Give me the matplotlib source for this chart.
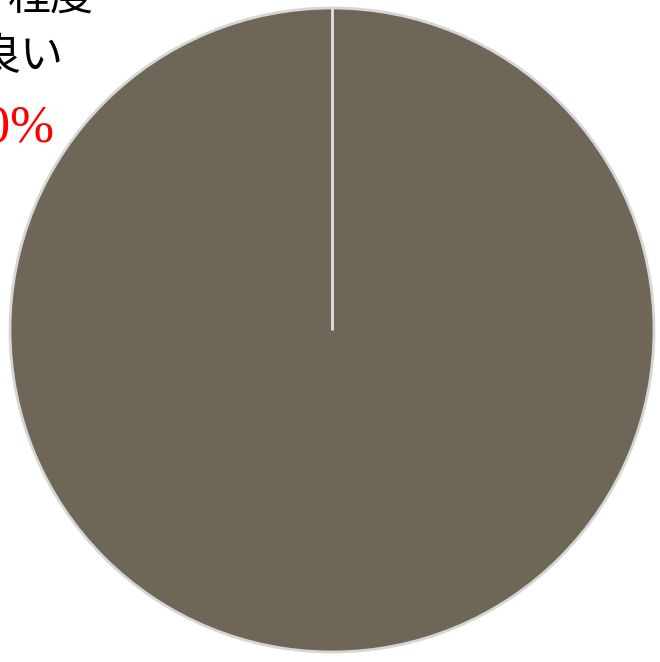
import matplotlib
matplotlib.use('Agg')
import matplotlib.pyplot as plt

plt.rcParams['font.family'] = ['Noto Sans CJK JP', 'DejaVu Sans']

# data
categories = ['良い']
values = [100]
label_lines = ['程度', '良い', '100%']
label_colors = ['black', 'black', 'red']
label_sizes = [31, 31, 38]
label_fonts = [['Noto Sans CJK JP'], ['Noto Sans CJK JP'], ['Liberation Serif']]

fig = plt.figure(figsize=(6.6, 6.62), dpi=100)
ax = fig.add_axes([10 / 660, 10 / 662, 644 / 660, 644 / 662])

wedges, _ = ax.pie(values, colors=['#6e6656'], startangle=90, counterclock=False,
                   wedgeprops=dict(edgecolor='#d6d6d6', linewidth=2))
# slice boundary (start of the single wedge)
ax.plot([0, 0], [0, 1], color='#e2e2e2', linewidth=2, solid_capstyle='butt')
ax.set_aspect('equal')
ax.set_xlim(-1.0, 1.0)
ax.set_ylim(-1.0, 1.0)
ax.axis('off')

# text cut off at left edge, as in the source
xs = [94 / 660, 64 / 660, 54 / 660]
ys = [1 + 2 / 662, 1 - 57 / 662, 1 - 128 / 662]
for t, c, s, f, x, y in zip(label_lines, label_colors, label_sizes, label_fonts, xs, ys):
    fig.text(x, y, t, color=c, fontsize=s, family=f, ha='right', va='center')

plt.savefig('out.png', dpi=100)
